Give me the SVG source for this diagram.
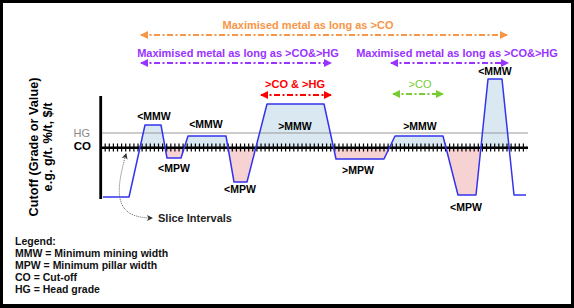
<svg xmlns="http://www.w3.org/2000/svg" width="574" height="308" viewBox="0 0 574 308">
<style>
text{font-family:"Liberation Sans",Arial,sans-serif;}
.b{font-weight:bold;}
.lbl{font-size:10.5px;font-weight:bold;fill:#000;text-anchor:middle;}
.leg{font-size:10.5px;font-weight:bold;fill:#111;}
.dd{fill:none;stroke-width:2;stroke-dasharray:6 2.5 2 2.5;}
</style>
<defs>
<marker id="ah-o" viewBox="0 0 8 8" refX="7" refY="4" markerWidth="8" markerHeight="8" markerUnits="userSpaceOnUse" orient="auto-start-reverse"><path d="M0,0 L8,4 L0,8 z" fill="#f79646"/></marker>
<marker id="ah-p" viewBox="0 0 8 8" refX="7" refY="4" markerWidth="8" markerHeight="8" markerUnits="userSpaceOnUse" orient="auto-start-reverse"><path d="M0,0 L8,4 L0,8 z" fill="#9933ff"/></marker>
<marker id="ah-r" viewBox="0 0 8 8" refX="7" refY="4" markerWidth="8" markerHeight="8" markerUnits="userSpaceOnUse" orient="auto-start-reverse"><path d="M0,0 L8,4 L0,8 z" fill="#ff0000"/></marker>
<marker id="ah-g" viewBox="0 0 8 8" refX="7" refY="4" markerWidth="8" markerHeight="8" markerUnits="userSpaceOnUse" orient="auto-start-reverse"><path d="M0,0 L8,4 L0,8 z" fill="#77cc33"/></marker>
<marker id="ah-s" viewBox="0 0 6 6" refX="5" refY="3" markerWidth="6" markerHeight="6" markerUnits="userSpaceOnUse" orient="auto-start-reverse"><path d="M0,0 L6,3 L0,6 L1.5,3 z" fill="#333"/></marker>
<clipPath id="above"><rect x="90" y="60" width="450" height="87.5"/></clipPath>
<clipPath id="below"><rect x="90" y="147.5" width="450" height="80"/></clipPath>
</defs>
<rect x="0" y="0" width="574" height="308" fill="#000"/>
<rect x="3" y="3" width="568" height="301" fill="#fff"/>

<g id="fills">
<polygon clip-path="url(#above)" fill="#dae8f1" points="140,147.5 145,125 161,125 167,158 181,158 188,136 226,136 234,182 247,182 267,104 324,104 336,159 384,159 395,136 443,136 458,195 476,195 488,79 502,79 509.1,147.5"/>
<polygon clip-path="url(#below)" fill="#f6d2d2" points="140,147.5 145,125 161,125 167,158 181,158 188,136 226,136 234,182 247,182 267,104 324,104 336,159 384,159 395,136 443,136 458,195 476,195 488,79 502,79 509.1,147.5"/>
</g>

<g id="axes">
<line x1="100" y1="133" x2="528" y2="133" stroke="#999" stroke-width="1"/>
<line x1="100.5" y1="147.5" x2="527" y2="147.5" stroke="#000" stroke-width="8" stroke-dasharray="1.2 2.9"/>
<line x1="100" y1="147.8" x2="528" y2="147.8" stroke="#000" stroke-width="2.5"/>
<line x1="100.7" y1="96" x2="100.7" y2="199" stroke="#000" stroke-width="2.8"/>
<text x="90" y="137" font-size="11" fill="#888" text-anchor="end">HG</text>
<text x="91" y="150" font-size="11.5" class="b" text-anchor="end">CO</text>
<text transform="translate(37.5,147) rotate(-90)" font-size="12.7" class="b" text-anchor="middle">Cutoff (Grade or Value)</text>
<text transform="translate(51.5,147) rotate(-90)" font-size="12.7" class="b" text-anchor="middle">e.g. g/t. %/t, $/t</text>
</g>

<g id="profile">
<polyline fill="none" stroke="#3333ee" stroke-width="1.5" stroke-linejoin="round" points="103,197 129,197 145,125 161,125 167,158 181,158 188,136 226,136 234,182 247,182 267,104 324,104 336,159 384,159 395,136 443,136 458,195 476,195 488,79 502,79 514,195 526,195"/>
</g>

<g id="labels">
<text class="lbl" x="154" y="120">&lt;MMW</text>
<text class="lbl" x="206" y="128">&lt;MMW</text>
<text class="lbl" x="174" y="172">&lt;MPW</text>
<text class="lbl" x="240" y="193">&lt;MPW</text>
<text class="lbl" x="295" y="130">&gt;MMW</text>
<text class="lbl" x="358" y="174">&gt;MPW</text>
<text class="lbl" x="420" y="130">&gt;MMW</text>
<text class="lbl" x="466" y="211">&lt;MPW</text>
<text class="lbl" x="495" y="75">&lt;MMW</text>
</g>

<g id="connectors">
<line class="dd" x1="141" y1="35" x2="507" y2="35" stroke="#f79646" marker-start="url(#ah-o)" marker-end="url(#ah-o)"/>
<line class="dd" x1="141" y1="63" x2="331" y2="63" stroke="#9933ff" marker-start="url(#ah-p)" marker-end="url(#ah-p)"/>
<line class="dd" x1="391" y1="63" x2="508" y2="63" stroke="#9933ff" marker-start="url(#ah-p)" marker-end="url(#ah-p)"/>
<line class="dd" x1="261" y1="95" x2="331" y2="95" stroke="#ff0000" marker-start="url(#ah-r)" marker-end="url(#ah-r)"/>
<line class="dd" x1="393" y1="94" x2="443" y2="94" stroke="#77cc33" marker-start="url(#ah-g)" marker-end="url(#ah-g)"/>
<path d="M126,154 C116,190 112,218 152,218" fill="none" stroke="#666" stroke-width="1" stroke-dasharray="1 1" marker-start="url(#ah-s)" marker-end="url(#ah-s)"/>
</g>

<g id="headers">
<text x="308" y="29" font-size="11" class="b" fill="#f79646" text-anchor="middle">Maximised metal as long as &gt;CO</text>
<text x="238" y="57" font-size="11" class="b" fill="#9933ff" text-anchor="middle">Maximised metal as long as &gt;CO&amp;&gt;HG</text>
<text x="457" y="57" font-size="11" class="b" fill="#9933ff" text-anchor="middle">Maximised metal as long as &gt;CO&amp;&gt;HG</text>
<text x="295" y="88" font-size="11" class="b" fill="#ff0000" text-anchor="middle">&gt;CO &amp; &gt;HG</text>
<text x="420" y="88" font-size="11" fill="#77cc33" text-anchor="middle">&gt;CO</text>
</g>

<g id="slice">
<text x="158" y="222" font-size="11" class="b" fill="#222">Slice Intervals</text>
</g>

<g id="legend">
<text class="leg" x="15" y="245">Legend:</text>
<text class="leg" x="15" y="257">MMW = Minimum mining width</text>
<text class="leg" x="15" y="269">MPW = Minimum pillar width</text>
<text class="leg" x="15" y="281">CO = Cut-off</text>
<text class="leg" x="15" y="293">HG = Head grade</text>
</g>
</svg>
